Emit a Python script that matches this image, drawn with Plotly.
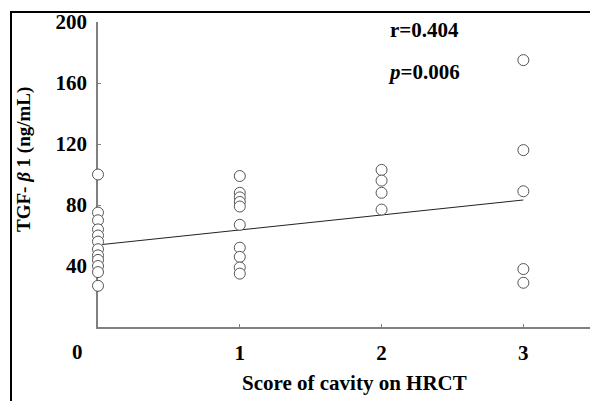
import plotly.graph_objects as go

# Data
score_0 = [100, 75, 70, 64, 60, 56, 51, 47, 44, 40, 36, 27]
score_1 = [99, 88, 85, 82, 79, 67, 52, 46, 39, 35]
score_2 = [103, 96, 88, 77]
score_3 = [175, 116, 89, 38, 29]
scores = [0, 1, 2, 3]
groups = [score_0, score_1, score_2, score_3]

fit_intercept = 53.8
fit_slope = 9.83
fit_x = [0, 3]

y_ticks = [40, 80, 120, 160, 200]
x_ticks = [1, 2, 3]

xs, ys = [], []
for s, g in zip(scores, groups):
    xs += [s] * len(g)
    ys += g

FONT = "Liberation Serif"
FS = 21
W, H = 590, 401

fig = go.Figure()
fig.add_trace(go.Scatter(
    x=fit_x, y=[fit_intercept + fit_slope * v for v in fit_x],
    mode="lines", line=dict(color="#222222", width=1), hoverinfo="skip",
    cliponaxis=False,
))
fig.add_trace(go.Scatter(
    x=xs, y=ys, mode="markers", cliponaxis=False,
    marker=dict(symbol="circle", size=11, color="white",
                line=dict(color="#555555", width=1)),
))

# whole figure is the paper (no margins); helpers convert window pixels to paper
def px(xp):
    return xp / W

def py(yp):
    return 1 - yp / H

ann = dict(showarrow=False, xanchor="center", yanchor="middle", xref="paper", yref="paper")

fig.update_layout(
    width=W, height=H,
    margin=dict(l=0, r=0, t=0, b=0, pad=0, autoexpand=False),
    paper_bgcolor="white", plot_bgcolor="white",
    showlegend=False,
    font=dict(family=FONT, color="black"),
    xaxis=dict(domain=[px(98), 1], range=[0, 3.47], tickvals=x_ticks,
               ticktext=[f"<b>{v}</b>" for v in x_ticks],
               showgrid=False, zeroline=False, showline=True, linecolor="#808080", linewidth=1.5,
               ticks="inside", ticklen=3, tickcolor="#808080", tickfont=dict(size=FS, family=FONT),
               ticklabelstandoff=6, layer="below traces", automargin=False),
    yaxis=dict(domain=[py(327), py(22)], range=[0, 200], tickvals=y_ticks,
               ticktext=[f"<b>{v}</b>" for v in y_ticks],
               showgrid=False, zeroline=False, showline=True, linecolor="#808080", linewidth=1.5,
               ticks="inside", ticklen=3, tickcolor="#808080", tickfont=dict(size=FS, family=FONT),
               ticklabelstandoff=5, layer="below traces", automargin=False),
    shapes=[
        dict(type="line", xref="paper", yref="paper", x0=px(11), x1=px(11), y0=0, y1=py(12),
             line=dict(color="black", width=2)),
        dict(type="line", xref="paper", yref="paper", x0=px(10), x1=1, y0=py(12), y1=py(12),
             line=dict(color="black", width=2)),
    ],
    annotations=[
        dict(ann, x=px(77), y=py(352), text="<b>0</b>", font=dict(size=FS, family=FONT)),
        dict(ann, x=px(24), y=py(160), text="<b>TGF- <i>β</i> 1 (ng/mL)</b>",
             textangle=-90, font=dict(size=19, family=FONT)),
        dict(ann, x=px(354), y=py(383), text="<b>Score of cavity on HRCT</b>",
             font=dict(size=FS, family=FONT)),
        dict(ann, x=px(424), y=py(30), text="<b>r=0.404</b>", font=dict(size=FS, family=FONT)),
        dict(ann, x=px(424), y=py(72), text="<b><i>p</i>=0.006</b>", font=dict(size=FS, family=FONT)),
    ],
)

fig.write_html("out.html", config={"displayModeBar": False},
               post_script="document.body.style.margin='0';document.body.style.padding='0';"
                           "document.body.style.overflow='hidden';")
